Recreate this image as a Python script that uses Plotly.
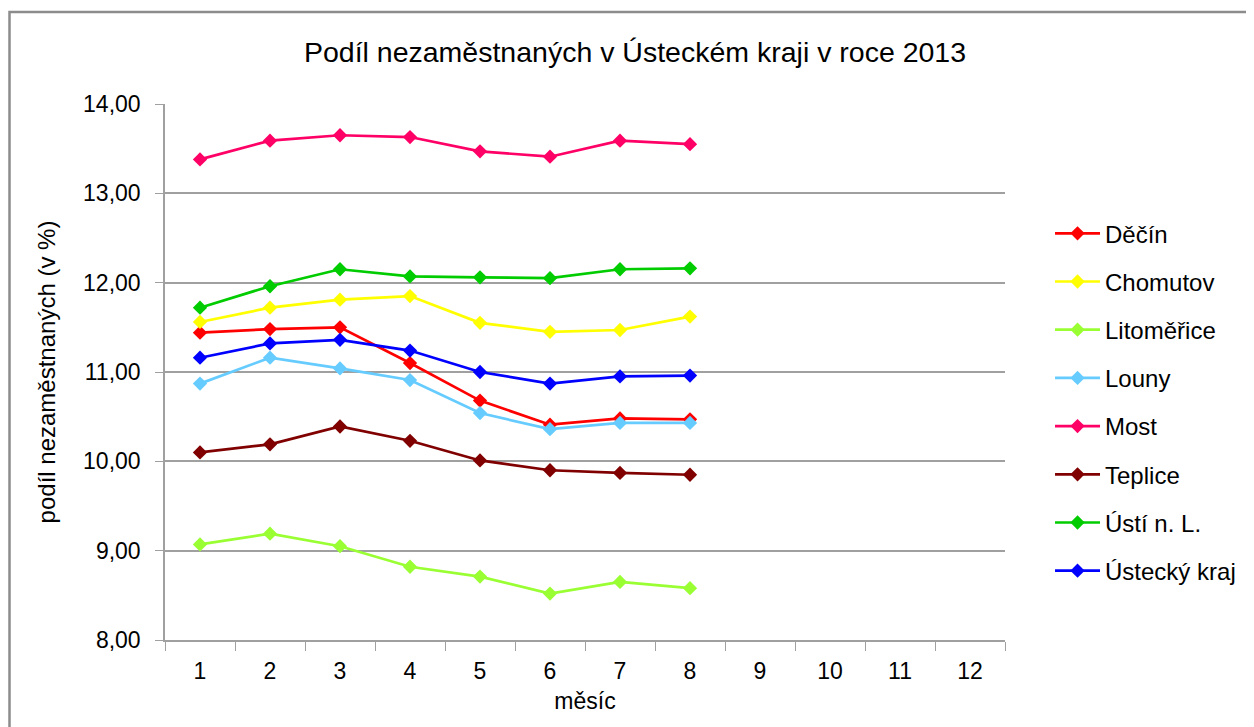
import plotly.graph_objects as go

months = ["1", "2", "3", "4", "5", "6", "7", "8"]
all_months = ["1", "2", "3", "4", "5", "6", "7", "8", "9", "10", "11", "12"]

decin = [11.44, 11.48, 11.50, 11.10, 10.68, 10.41, 10.48, 10.47]
chomutov = [11.56, 11.72, 11.81, 11.85, 11.55, 11.45, 11.47, 11.62]
litomerice = [9.07, 9.19, 9.05, 8.82, 8.71, 8.52, 8.65, 8.58]
louny = [10.87, 11.16, 11.04, 10.91, 10.54, 10.36, 10.43, 10.43]
most = [13.38, 13.59, 13.65, 13.63, 13.47, 13.41, 13.59, 13.55]
teplice = [10.10, 10.19, 10.39, 10.23, 10.01, 9.90, 9.87, 9.85]
usti = [11.72, 11.96, 12.15, 12.07, 12.06, 12.05, 12.15, 12.16]
kraj = [11.16, 11.32, 11.36, 11.24, 11.00, 10.87, 10.95, 10.96]

names = ["Děčín", "Chomutov", "Litoměřice", "Louny", "Most", "Teplice", "Ústí n. L.", "Ústecký kraj"]
series = [decin, chomutov, litomerice, louny, most, teplice, usti, kraj]
colors = ["#FF0000", "#FFFF00", "#99FF33", "#66CCFF", "#FF0066", "#800000", "#00CC00", "#0000FF"]

FONT = "Liberation Sans, Arial"

fig = go.Figure()
for i, (n, s, c) in enumerate(zip(names, series, colors)):
    fig.add_trace(go.Scatter(
        x=months, y=s, name=n, mode="lines+markers",
        line=dict(color=c, width=2.7),
        marker=dict(symbol="diamond", size=11, color=c),
        legendgroup=f"g{i}",
    ))

fig.update_layout(
    width=1254, height=727,
    margin=dict(l=157, r=257, t=96, b=95),
    paper_bgcolor="white", plot_bgcolor="white",
    separators=", ",
    font=dict(family=FONT, size=18, color="#000000"),
    title=dict(text="Podíl nezaměstnaných v Ústeckém kraji v roce 2013",
               x=0.5, xanchor="center", y=0.9395, yanchor="middle",
               font=dict(size=28.5, family=FONT)),
    showlegend=True,
    legend=dict(x=1.0536, xanchor="left", y=0.80, yanchor="top",
                font=dict(size=24, family=FONT), tracegroupgap=14,
                itemwidth=45, bgcolor="rgba(0,0,0,0)"),
    xaxis=dict(type="category", categoryorder="array", categoryarray=all_months,
               range=[-0.5, 11.5], tickson="boundaries", ticks="outside", ticklen=9,
               tickcolor="#A0A0A0", showgrid=False, showline=True, linecolor="#A0A0A0",
               linewidth=1.5, tickfont=dict(size=23), zeroline=False, ticklabelstandoff=10,
               title=dict(text="měsíc", font=dict(size=23), standoff=10)),
    yaxis=dict(range=[8, 14], dtick=1, tickformat=".2f", ticks="outside", ticklen=8,
               tickcolor="#A0A0A0", showgrid=True, gridcolor="#A0A0A0", gridwidth=1.5,
               showline=True, linecolor="#A0A0A0", linewidth=1.5, zeroline=False,
               tickfont=dict(size=23), ticklabelstandoff=10,
               title=dict(text="podíl nezaměstnaných (v %)", font=dict(size=24), standoff=21)),
    shapes=[dict(type="rect", xref="paper", yref="paper",
                 x0=(9.5 - 165) / 840, x1=(1270 - 165) / 840,
                 y0=(640 - 760) / 536, y1=(640 - 12) / 536,
                 line=dict(color="#8C8C8C", width=2.5), fillcolor="rgba(0,0,0,0)", layer="below")],
)

fig.write_html("out.html")
